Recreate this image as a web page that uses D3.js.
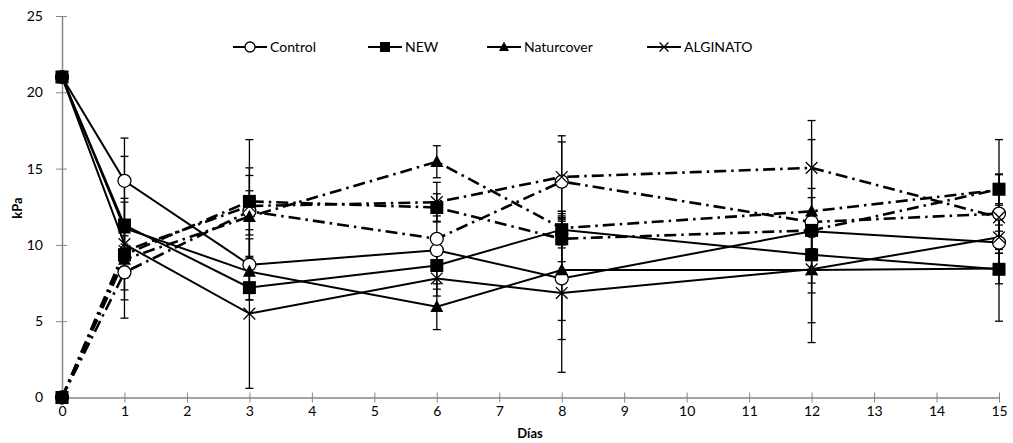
<!DOCTYPE html>
<html>
<head>
<meta charset="utf-8">
<script src="https://cdn.jsdelivr.net/npm/d3@7"></script>
<style>
    body { margin: 0; background: #fff; }
    svg { font-family: Lato, "Open Sans", sans-serif; }
</style>
</head>
<body>
<svg id="chart" width="1013" height="443"></svg>
<script>
// days on the x axis
const days = [0, 1, 3, 6, 8, 12, 15];

// solid lines (start at 21)
const controlA = [21, 14.2, 8.7, 9.65, 7.8, 10.9, 10.15];
const newA = [21, 11.3, 7.2, 8.65, 11.0, 9.35, 8.4];
const naturA = [21, 11.1, 8.25, 5.95, 8.35, 8.35, 8.45];
const alginA = [21, 10.05, 5.5, 7.8, 6.85, 8.4, 10.5];

// dash-dot lines (start at 0)
const controlB = [0, 8.2, 12.2, 10.4, 14.15, 11.5, 12.05];
const newB = [0, 9.35, 12.85, 12.45, 10.4, 10.95, 13.65];
const naturB = [0, 9.05, 11.85, 15.45, 11.1, 12.2, 13.6];
const alginB = [0, 9.6, 12.55, 12.8, 14.45, 15.05, 11.8];

// error bars (+/-)
const errControlA = [0, 2.8, 2.3, 0.8, 4.0, 1.2, 1.5];
const errNewA = [0, 1.5, 0.8, 2.0, 1.2, 2.5, 3.4];
const errNaturA = [0, 4.7, 1.0, 1.5, 3.3, 4.75, 1.0];
const errAlginA = [0, 3.0, 4.9, 0.7, 5.2, 3.5, 0.8];
const errControlB = [0, 3.0, 4.7, 1.5, 2.6, 2.2, 2.6];
const errNewB = [0, 1.5, 2.2, 0.9, 1.5, 1.2, 3.25];
const errNaturB = [0, 1.0, 2.7, 1.05, 1.1, 4.7, 1.0];
const errAlginB = [0, 1.0, 1.0, 1.3, 2.7, 3.1, 0.9];

const xTicks = d3.range(0, 16);
const yTicks = [0, 5, 10, 15, 20, 25];
const legendNames = ["Control", "NEW", "Naturcover", "ALGINATO"];

const series = [
    {values: controlA, err: errControlA, marker: "circle", dashed: false},
    {values: newA, err: errNewA, marker: "square", dashed: false},
    {values: naturA, err: errNaturA, marker: "triangle", dashed: false},
    {values: alginA, err: errAlginA, marker: "cross", dashed: false},
    {values: controlB, err: errControlB, marker: "circle", dashed: true},
    {values: newB, err: errNewB, marker: "square", dashed: true},
    {values: naturB, err: errNaturB, marker: "triangle", dashed: true},
    {values: alginB, err: errAlginB, marker: "cross", dashed: true}
];

const axisColor = "#868686";
const svg = d3.select("#chart");

const x = d3.scaleLinear().domain([0, 15]).range([62, 999]);
const y = d3.scaleLinear().domain([0, 25]).range([397.5, 16]);

// axes
const gx = svg.append("g")
    .attr("transform", `translate(0,${y(0)})`)
    .call(d3.axisBottom(x).tickValues(xTicks).tickSize(0).tickPadding(9));
gx.selectAll(".tick line").remove();
gx.selectAll(".tick")
    .append("line")
    .attr("y1", -5).attr("y2", 5)
    .attr("stroke", axisColor);

const gy = svg.append("g")
    .attr("transform", `translate(${x(0)},0)`)
    .call(d3.axisLeft(y).tickValues(yTicks).tickSize(0).tickPadding(19));
gy.selectAll(".tick line").remove();
gy.selectAll(".tick")
    .append("line")
    .attr("x1", -6).attr("x2", 5)
    .attr("stroke", axisColor);

svg.selectAll(".domain").attr("stroke", axisColor).attr("stroke-width", 1.5);
svg.selectAll(".tick text")
    .attr("font-size", 14)
    .attr("fill", "#000")
    .attr("font-family", "Lato, sans-serif");

svg.append("text")
    .attr("x", 530).attr("y", 438)
    .attr("text-anchor", "middle")
    .attr("font-size", 13)
    .attr("font-weight", "bold")
    .text("Días");

svg.append("text")
    .attr("transform", "translate(22,208) rotate(-90)")
    .attr("text-anchor", "middle")
    .attr("font-size", 13)
    .attr("font-weight", "bold")
    .text("kPa");

// draw a marker symbol at (cx, cy)
function drawMarker(g, type, cx, cy, s) {
    if (type === "circle") {
        g.append("circle")
            .attr("cx", cx).attr("cy", cy).attr("r", s * 0.5)
            .attr("fill", "#fff").attr("stroke", "#000").attr("stroke-width", 1.3);
    } else if (type === "square") {
        g.append("rect")
            .attr("x", cx - s / 2).attr("y", cy - s / 2)
            .attr("width", s).attr("height", s)
            .attr("fill", "#000");
    } else if (type === "triangle") {
        const h = s * 0.9;
        g.append("path")
            .attr("d", `M${cx},${cy - h * 0.6}L${cx + s / 2},${cy + h * 0.45}L${cx - s / 2},${cy + h * 0.45}Z`)
            .attr("fill", "#000");
    } else {
        const r = s * 0.45;
        g.append("path")
            .attr("d", `M${cx - r},${cy - r}L${cx + r},${cy + r}M${cx - r},${cy + r}L${cx + r},${cy - r}`)
            .attr("stroke", "#000").attr("stroke-width", 1.3);
    }
}

const line = d3.line()
    .x((d, i) => x(days[i]))
    .y(d => y(d));

const plot = svg.append("g");

// error bars
series.forEach(s => {
    const eg = plot.append("g").attr("stroke", "#000").attr("stroke-width", 1.3);
    s.values.forEach((v, i) => {
        const e = s.err[i];
        if (!e) return;
        const cx = x(days[i]);
        eg.append("line").attr("x1", cx).attr("x2", cx).attr("y1", y(v - e)).attr("y2", y(v + e));
        eg.append("line").attr("x1", cx - 4).attr("x2", cx + 4).attr("y1", y(v - e)).attr("y2", y(v - e));
        eg.append("line").attr("x1", cx - 4).attr("x2", cx + 4).attr("y1", y(v + e)).attr("y2", y(v + e));
    });
});

// lines
series.forEach(s => {
    plot.append("path")
        .datum(s.values)
        .attr("d", line)
        .attr("fill", "none")
        .attr("stroke", "#000")
        .attr("stroke-width", s.dashed ? 2.6 : 2)
        .attr("stroke-dasharray", s.dashed ? "12,5,2.5,5" : null);
});

// markers
series.forEach(s => {
    const mg = plot.append("g");
    s.values.forEach((v, i) => drawMarker(mg, s.marker, x(days[i]), y(v), 13));
});

// legend
const legendX = [233, 368, 487, 647];
const legendMarkers = ["circle", "square", "triangle", "cross"];
const legend = svg.append("g").attr("transform", "translate(0,47)");
legendNames.forEach((name, i) => {
    const lx = legendX[i];
    legend.append("line")
        .attr("x1", lx).attr("x2", lx + 34)
        .attr("stroke", "#000").attr("stroke-width", 2);
    drawMarker(legend, legendMarkers[i], lx + 17, 0, 10);
    legend.append("text")
        .attr("x", lx + 37).attr("y", 5)
        .attr("font-size", 14)
        .text(name);
});
</script>
</body>
</html>
